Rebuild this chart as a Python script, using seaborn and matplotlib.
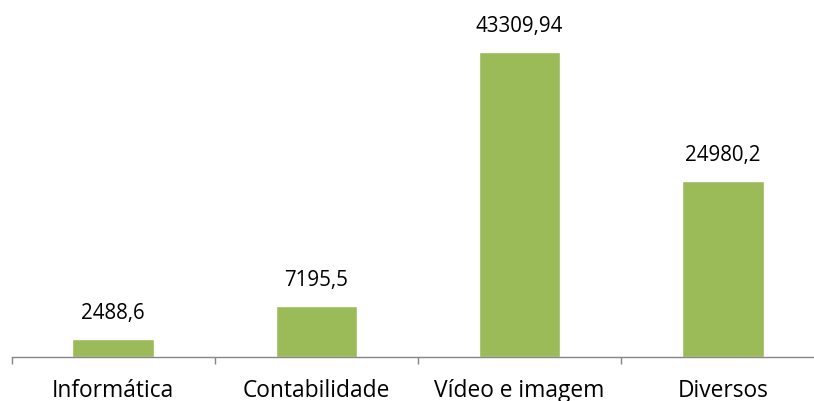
import matplotlib
matplotlib.use("Agg")
import matplotlib.pyplot as plt
import seaborn as sns
import pandas as pd
from matplotlib.ticker import FixedLocator

categorias = ["Informática", "Contabilidade", "Vídeo e imagem", "Diversos"]
valores = [2488.6, 7195.5, 43309.94, 24980.2]
rotulos = ["2488,6", "7195,5", "43309,94", "24980,2"]

sns.set_style("white")
plt.rcParams['font.family'] = ['Open Sans', 'DejaVu Sans']

df = pd.DataFrame({"cat": categorias, "valor": valores})

fig = plt.figure(figsize=(8.14, 4.01), dpi=100)
# axes run past the right edge, like the cropped original
ax = fig.add_axes([11.5 / 814, 44 / 401, 813 / 814, 352.1 / 401])

sns.barplot(data=df, x="cat", y="valor", color="#9BBB59", saturation=1,
            width=0.4, ax=ax)

ax.set_xlim(-0.5, 3.5)
ax.set_ylim(0, 50000)
ax.set_xlabel("")
ax.set_ylabel("")
ax.set_yticks([])

for s in ["top", "right", "left"]:
    ax.spines[s].set_visible(False)
ax.spines["bottom"].set_color("#868686")
ax.spines["bottom"].set_linewidth(1)

ax.tick_params(axis="x", which="major", bottom=False, labelsize=16.4, pad=12.5,
               labelcolor="black")
ax.xaxis.set_minor_locator(FixedLocator([-0.5, 0.5, 1.5, 2.5, 3.5]))
ax.tick_params(axis="x", which="minor", bottom=True, length=5, width=1,
               color="#868686")

for i, (v, r) in enumerate(zip(valores, rotulos)):
    ax.annotate(r, (i, v), xytext=(0, 14.4), textcoords="offset points",
                ha="center", va="baseline", fontsize=14.8, color="black")

fig.savefig("out.png", dpi=100)
